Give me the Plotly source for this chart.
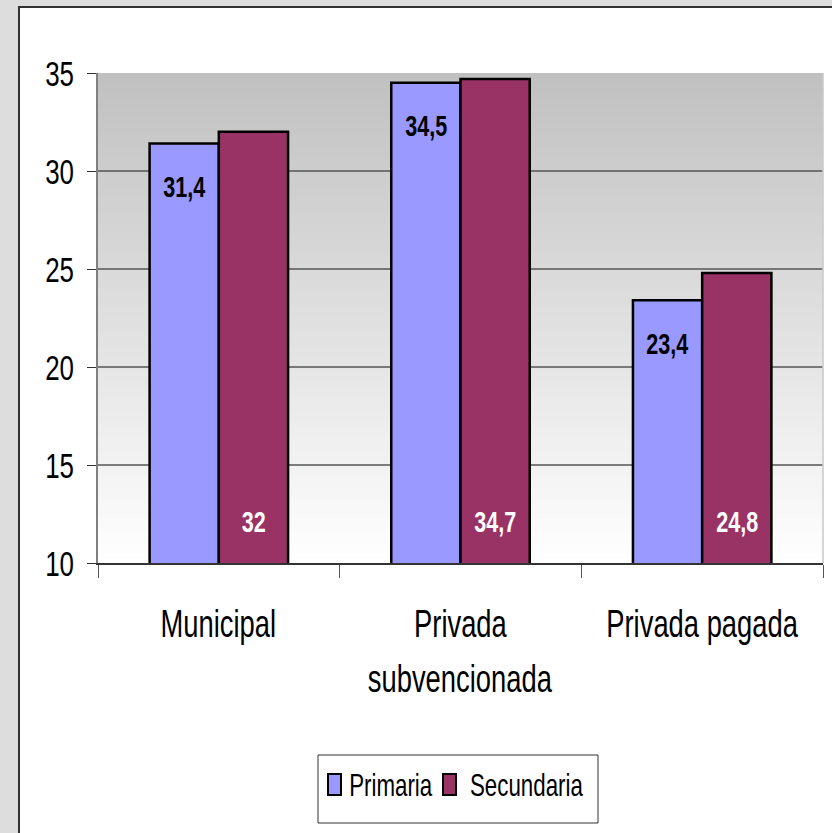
import plotly.graph_objects as go

# data
categorias = ["Municipal", "Privada<br>subvencionada", "Privada pagada"]
series = ["Primaria", "Secundaria"]
primaria = [31.4, 34.5, 23.4]
secundaria = [32.0, 34.7, 24.8]
etiq_primaria = ["31,4", "34,5", "23,4"]
etiq_secundaria = ["32", "34,7", "24,8"]
y_ticks = [10, 15, 20, 25, 30, 35]

colores = ["#9999FF", "#993366"]
FONT = "Liberation Sans, Arial, sans-serif"
NARROW = 0.72  # horizontal squeeze applied to all text (Arial Narrow look)

# plot area in pixels (used to convert page positions to paper coords)
L, R, T, B = 98, 823, 73, 563
W, H = R - L, B - T
def px(x):
    return (x - L) / W
def py(y):
    return (B - y) / H

fig = go.Figure()
fig.add_trace(go.Bar(x=categorias, y=primaria, name=series[0],
                     marker=dict(color=colores[0], line=dict(color="black", width=2.5))))
fig.add_trace(go.Bar(x=categorias, y=secundaria, name=series[1],
                     marker=dict(color=colores[1], line=dict(color="black", width=2.5))))

shapes = []
# outer panel
shapes.append(dict(type="rect", xref="paper", yref="paper", x0=px(19), x1=1.2, y0=-0.8, y1=py(7),
                   fillcolor="white", line=dict(color="#333333", width=2), layer="below"))
# gradient background of the plot area
n = 100
for i in range(n):
    t = (i + 0.5) / n
    c = int(round(255 - (255 - 192) * t))
    shapes.append(dict(type="rect", xref="paper", yref="paper", x0=0, x1=1,
                       y0=i / n, y1=min(1, (i + 1.6) / n), fillcolor=f"rgb({c},{c},{c})",
                       line=dict(width=0), layer="below"))
# grid lines (none at top and bottom)
for v in y_ticks[1:-1]:
    shapes.append(dict(type="line", xref="paper", yref="y", x0=0, x1=1, y0=v, y1=v,
                       line=dict(color="#555555", width=1.5), layer="below"))
# right border of the plot area
shapes.append(dict(type="line", xref="paper", yref="paper", x0=1, x1=1, y0=0, y1=1,
                   line=dict(color="#C8C8C8", width=1.5), layer="below"))
# legend box
shapes.append(dict(type="rect", xref="paper", yref="paper", x0=px(318), x1=px(598),
                   y0=py(823), y1=py(755), fillcolor="white",
                   line=dict(color="#333333", width=1), layer="below"))

annotations = []
for i, cat in enumerate(categorias):
    annotations.append(dict(x=cat, y=primaria[i], xref="x", yref="y", text=etiq_primaria[i],
                            showarrow=False, xshift=-34.5, yshift=-43,
                            font=dict(family=FONT, size=30, color="black", weight="bold")))
    annotations.append(dict(x=cat, y=y_ticks[0], xref="x", yref="y", text=etiq_secundaria[i],
                            showarrow=False, xshift=34.5, yshift=42,
                            font=dict(family=FONT, size=30, color="white", weight="bold")))
    # category labels, one annotation per line for the wide line spacing
    for j, linea in enumerate(cat.split("<br>")):
        annotations.append(dict(x=cat, y=py(624 + 55 * j), xref="x", yref="paper", text=linea,
                                showarrow=False, yanchor="middle",
                                font=dict(family=FONT, size=38, color="black")))

# legend drawn by hand: swatch + name
sw_left = [328, 443]
txt_center = [390.5, 526.5]
for k in range(len(series)):
    shapes.append(dict(type="rect", xref="paper", yref="paper",
                       x0=px(sw_left[k]), x1=px(sw_left[k] + 13), y0=py(795), y1=py(774),
                       fillcolor=colores[k], line=dict(color="black", width=2)))
    annotations.append(dict(x=px(txt_center[k]), y=py(785), xref="paper", yref="paper",
                            text=series[k], showarrow=False, xanchor="center", yanchor="middle",
                            font=dict(family=FONT, size=31, color="black")))

fig.update_layout(
    width=832, height=833, autosize=False,
    margin=dict(l=L, r=832 - R, t=T, b=833 - B, autoexpand=False),
    paper_bgcolor="#DDDDDD", plot_bgcolor="rgba(0,0,0,0)",
    barmode="group", bargap=0.427, bargroupgap=0,
    shapes=shapes, annotations=annotations,
    font=dict(family=FONT, color="black"),
    showlegend=False,
)
fig.update_xaxes(range=[-0.5, len(categorias) - 0.5], showticklabels=False, ticks="outside",
                 tickson="boundaries", ticklen=13,
                 tickcolor="#555555", showline=True, linecolor="#333333", linewidth=1.5,
                 showgrid=False, fixedrange=True, automargin=False)
fig.update_yaxes(range=[10, 35], tickvals=y_ticks, ticks="outside", ticklen=9,
                 tickcolor="#333333", showline=True, linecolor="#808080", linewidth=1.5,
                 showgrid=False, zeroline=False, tickfont=dict(family=FONT, size=36, color="black"),
                 ticklabelstandoff=6, fixedrange=True, automargin=False)

# drop the default 8px body margin, then squeeze every text around its anchor point
js = """
document.body.style.margin = '0';
var s = %s;
document.querySelectorAll('.main-svg text').forEach(function (el) {
    var x = parseFloat(el.getAttribute('x')) || 0;
    var t = el.getAttribute('transform') || '';
    el.setAttribute('transform', t + ' translate(' + x + ',0) scale(' + s + ',1) translate(' + (-x) + ',0)');
});
""" % NARROW
fig.write_html("out.html", config={"displayModeBar": False}, post_script=js)
